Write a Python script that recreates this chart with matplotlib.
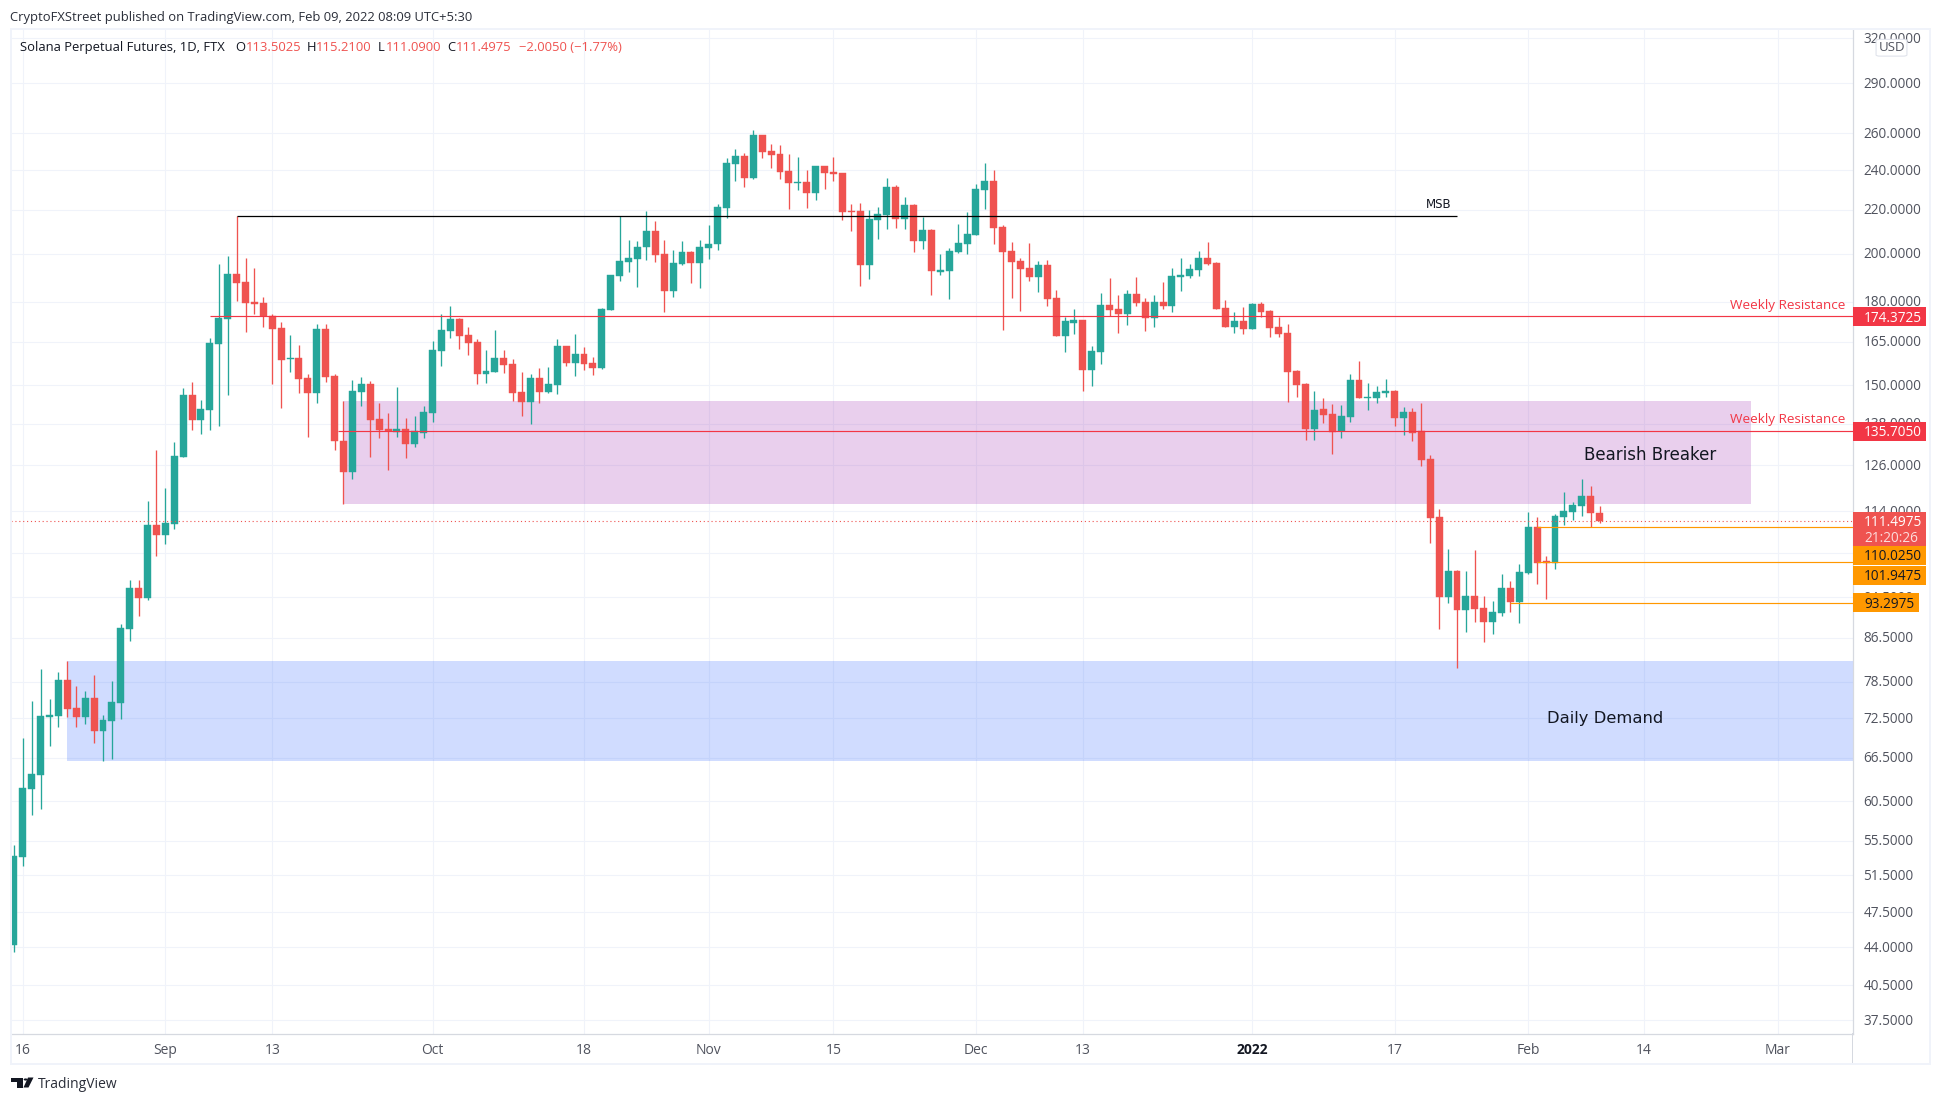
import numpy as np
import pandas as pd
import matplotlib
matplotlib.use("Agg")
import matplotlib.pyplot as plt
from matplotlib.patches import Rectangle, FancyBboxPatch, Polygon, Circle
from matplotlib.transforms import ScaledTranslation

# daily candles, SOL perp
start_date = "2021-08-15"
opens = [
    44.2, 53.6, 62.2, 64.1, 72.8, 72.9, 78.8, 74.2, 72.7, 75.8,
    70.5, 72.1, 75.0, 88.2, 96.4, 94.3, 110.6, 108.2, 110.9, 128.2,
    146.9, 139.1, 142.2, 164.2, 173.4, 191.3, 188.0, 179.9, 179.6, 174.4,
    170.1, 158.9, 159.3, 152.5, 147.6, 169.7, 153.1, 132.8, 124.1, 147.8,
    150.5, 139.5, 136.4, 135.5, 136.4, 132.0, 135.2, 141.3, 161.7, 168.9,
    173.4, 167.5, 164.9, 153.8, 154.4, 159.3, 157.2, 147.8, 144.6, 152.5,
    147.8, 150.2, 163.5, 157.6, 160.7, 157.6, 155.9, 176.9, 190.5, 196.3,
    197.7, 202.7, 210.1, 199.8, 184.3, 195.5, 200.7, 196.0, 202.5, 204.2,
    220.9, 243.2, 247.5, 235.9, 259.1, 250.2, 248.6, 239.5, 233.3, 233.9,
    228.3, 242.2, 239.0, 238.5, 219.5, 219.5, 195.1, 215.2, 217.6, 231.3,
    215.7, 222.4, 205.6, 210.6, 192.1, 192.5, 200.7, 204.2, 208.3, 229.8,
    234.4, 212.0, 201.1, 196.8, 193.8, 190.0, 195.1, 181.5, 167.1, 171.9,
    173.0, 155.1, 161.3, 178.8, 177.2, 175.3, 183.1, 180.0, 173.8, 180.0,
    178.4, 190.0, 190.4, 193.0, 198.1, 196.0, 177.6, 170.4, 172.7, 169.6,
    179.2, 176.4, 170.4, 168.2, 154.8, 150.4, 136.4, 142.4, 140.9, 135.8,
    140.0, 151.8, 145.9, 146.0, 147.5, 148.2, 139.7, 141.5, 135.7, 127.7,
    112.5, 94.5, 100.0, 91.9, 94.7, 92.2, 89.5, 91.2, 96.4, 93.5,
    99.6, 110.1, 102.2, 101.9, 112.5, 113.8, 115.3, 117.8, 113.5025,
]
highs = [
    55.0, 69.4, 75.3, 80.8, 75.7, 80.2, 82.2, 77.8, 76.9, 79.7,
    73.0, 78.6, 89.1, 98.1, 98.1, 116.5, 130.3, 120.0, 132.5, 149.2,
    151.1, 145.3, 166.4, 195.6, 198.9, 216.9, 198.2, 193.9, 181.9, 175.2,
    172.1, 167.5, 163.8, 153.7, 171.6, 171.6, 153.7, 145.0, 151.8, 152.7,
    151.4, 144.5, 141.3, 149.5, 139.8, 140.3, 143.4, 165.3, 175.2, 178.4,
    173.6, 170.3, 165.9, 162.1, 169.3, 162.1, 158.9, 154.4, 153.7, 155.9,
    156.1, 165.9, 163.5, 167.9, 163.1, 159.6, 177.5, 191.0, 216.9, 206.1,
    205.4, 219.3, 214.7, 206.0, 201.6, 205.6, 201.0, 206.0, 212.9, 222.9,
    246.4, 251.3, 249.2, 262.0, 259.4, 254.1, 253.5, 248.6, 247.0, 240.0,
    242.4, 242.4, 247.0, 238.7, 222.9, 223.4, 220.0, 221.4, 235.9, 232.3,
    226.3, 222.9, 216.7, 211.0, 199.8, 202.5, 213.4, 219.0, 232.9, 243.8,
    240.0, 212.9, 205.2, 198.1, 204.7, 196.8, 197.2, 184.7, 174.1, 177.2,
    173.2, 163.5, 183.5, 189.6, 182.7, 184.7, 190.0, 181.5, 182.7, 188.0,
    193.8, 198.1, 195.5, 201.1, 205.2, 196.2, 180.7, 176.1, 178.0, 179.6,
    180.0, 176.8, 174.1, 171.5, 155.1, 150.8, 148.2, 145.9, 144.0, 143.7,
    153.8, 158.2, 150.8, 149.8, 152.1, 148.4, 143.1, 142.8, 144.3, 128.9,
    114.5, 104.9, 100.2, 100.0, 104.7, 94.7, 93.7, 99.3, 97.9, 101.6,
    113.8, 112.5, 103.4, 113.3, 118.8, 116.3, 122.3, 120.4, 115.21,
]
lows = [
    43.5, 52.5, 58.7, 59.5, 68.2, 71.2, 72.7, 71.2, 71.6, 68.7,
    66.0, 66.4, 72.4, 85.8, 90.6, 93.9, 103.3, 106.1, 109.7, 128.2,
    136.1, 134.9, 136.1, 137.3, 146.9, 180.3, 168.5, 175.2, 170.3, 150.5,
    142.8, 154.4, 147.6, 134.0, 144.4, 151.0, 130.3, 115.8, 122.4, 143.4,
    128.2, 133.8, 124.7, 134.0, 128.1, 131.1, 133.8, 138.5, 156.5, 166.2,
    162.5, 160.3, 150.5, 150.7, 154.4, 154.2, 145.0, 140.3, 137.9, 144.4,
    147.6, 147.3, 156.5, 153.1, 155.1, 153.5, 155.6, 176.8, 188.4, 192.1,
    185.9, 197.3, 196.4, 176.1, 181.9, 195.1, 187.6, 185.5, 197.7, 201.6,
    216.2, 234.4, 231.3, 235.4, 246.4, 241.1, 235.4, 220.4, 229.8, 220.9,
    224.8, 230.3, 234.4, 215.2, 210.1, 186.3, 189.2, 206.5, 211.0, 211.5,
    211.0, 200.7, 202.0, 182.7, 190.9, 181.1, 200.3, 199.8, 208.3, 220.4,
    204.2, 169.3, 181.5, 176.4, 188.4, 183.9, 178.4, 167.1, 161.3, 167.8,
    148.2, 149.8, 157.1, 174.5, 168.2, 171.1, 178.4, 168.9, 170.4, 177.2,
    176.1, 184.3, 189.6, 190.4, 195.1, 177.2, 170.4, 168.2, 167.8, 169.6,
    174.1, 166.7, 166.7, 144.7, 146.2, 133.1, 133.1, 138.1, 129.1, 133.7,
    138.5, 145.9, 142.1, 144.3, 146.2, 137.3, 134.6, 132.8, 125.8, 106.3,
    88.1, 93.3, 80.9, 87.5, 89.5, 85.7, 87.2, 90.7, 91.4, 89.3,
    99.3, 97.2, 94.1, 100.5, 110.6, 111.8, 112.8, 110.0, 111.09,
]
closes = [
    53.7, 62.3, 64.2, 72.9, 73.0, 78.8, 74.0, 72.7, 75.8, 70.5,
    72.2, 75.2, 88.3, 96.4, 94.3, 110.6, 108.2, 111.1, 128.6, 146.9,
    139.1, 142.4, 164.6, 173.9, 191.3, 187.6, 179.6, 179.2, 174.4, 169.7,
    158.6, 159.3, 152.1, 147.6, 169.7, 152.7, 132.8, 124.1, 148.1, 150.5,
    139.1, 136.1, 135.7, 136.4, 132.0, 135.7, 141.5, 162.1, 169.3, 173.4,
    167.1, 164.6, 153.8, 154.7, 159.3, 157.0, 147.6, 144.6, 152.5, 147.8,
    150.5, 163.5, 157.6, 160.7, 157.2, 155.9, 177.3, 190.9, 196.8, 198.2,
    202.9, 210.1, 199.4, 184.3, 196.0, 200.7, 196.0, 202.9, 204.2, 221.4,
    243.8, 247.5, 235.9, 259.1, 249.7, 248.1, 239.0, 233.3, 233.9, 228.3,
    242.2, 238.5, 238.0, 219.0, 219.0, 195.1, 215.7, 218.1, 231.3, 215.7,
    222.4, 205.6, 210.6, 192.5, 193.0, 201.1, 204.7, 208.7, 230.3, 234.4,
    211.5, 200.7, 196.4, 193.4, 190.0, 195.1, 181.1, 167.1, 172.7, 173.0,
    155.1, 161.7, 178.8, 176.8, 175.3, 183.1, 179.6, 173.8, 180.0, 178.4,
    190.4, 190.9, 193.4, 198.1, 195.5, 177.2, 170.4, 172.7, 169.6, 179.2,
    176.1, 170.0, 167.8, 154.5, 150.1, 136.4, 142.1, 140.6, 135.6, 140.3,
    151.8, 145.9, 146.2, 147.9, 148.2, 139.7, 141.5, 135.2, 127.4, 112.3,
    94.5, 100.0, 91.9, 94.7, 92.1, 89.5, 91.4, 96.4, 93.4, 99.8,
    110.1, 101.8, 101.9, 112.8, 114.0, 115.5, 117.8, 113.5, 111.4975,
]

price_ticks = [320, 290, 260, 240, 220, 200, 180, 165, 150, 138, 126, 114, 104,
               94.5, 86.5, 78.5, 72.5, 66.5, 60.5, 55.5, 51.5, 47.5, 44, 40.5, 37.5]
date_ticks = ["2021-08-16", "2021-09-01", "2021-09-13", "2021-10-01", "2021-10-18", "2021-11-01",
              "2021-11-15", "2021-12-01", "2021-12-13", "2022-01-01", "2022-01-17", "2022-02-01",
              "2022-02-14", "2022-03-01"]
date_labels = ["16", "Sep", "13", "Oct", "18", "Nov", "15", "Dec", "13", "2022", "17", "Feb", "14", "Mar"]

msb_level = 217.0
weekly_res = [174.3725, 135.705]
support_levels = [110.025, 101.9475, 93.2975]
last_close = 111.4975

# W, H in pixels, everything outside the axes is placed in these
W, H = 1941, 1103
UP, DOWN = "#26a69a", "#ef5350"
RED, ORANGE = "#f23645", "#ff9800"
TEXT = "#131722"
GREY = "#50535e"
FRAME = "#f0f3fa"
GRID = "#f0f3fa"
FONT = "Open Sans"
plt.rcParams["font.family"] = FONT


def fx(x):
    return x / W


def fy(y):
    return 1 - y / H


def day(d):
    return (pd.Timestamp(d) - pd.Timestamp(start_date)).days


fig = plt.figure(figsize=(W / 100, H / 100), dpi=100, facecolor="white")
ax = fig.add_axes([fx(11), fy(1033.5), fx(1852.5 - 11), (1033.5 - 30) / H])

x = np.arange(len(opens))
o, h, l, c = map(np.array, (opens, highs, lows, closes))
colors = np.where(c >= o, UP, DOWN)

ax.set_yscale("log")
ax.set_xlim(-0.326, 206.4)
ax.set_ylim(36.44, 325.9)

# zones go under the candles but let the grid show through
ax.add_patch(Rectangle((day("2021-09-21"), 115.8), 158, 145.0 - 115.8, fc="#9c27b0", ec="none", alpha=0.22, zorder=2))
ax.axhspan(66.0, 82.2, xmin=(day("2021-08-21") + 0.326) / 206.726, xmax=1, fc="#2962ff", ec="none", alpha=0.22, zorder=2)

ax.vlines(x, l, h, colors=colors, lw=0.95, zorder=3)
ax.bar(x, np.maximum(np.abs(c - o), 1e-3), bottom=np.minimum(o, c), width=0.78,
       color=colors, edgecolor=colors, linewidth=0.3, zorder=4)

# levels
ax.hlines(msb_level, day("2021-09-09"), day("2022-01-24"), color="black", lw=0.9, zorder=5)
ax.hlines(weekly_res[0], day("2021-09-06"), 206.4, color=RED, lw=0.85, zorder=5)
ax.hlines(weekly_res[1], day("2021-09-20") + 0.4, 206.4, color=RED, lw=0.85, zorder=5)
ax.hlines(support_levels[0], day("2022-02-02"), 206.4, color=ORANGE, lw=0.85, zorder=5)
ax.hlines(support_levels[1], day("2022-02-02"), 206.4, color=ORANGE, lw=0.85, zorder=5)
ax.hlines(support_levels[2], day("2022-01-30"), 206.4, color=ORANGE, lw=0.85, zorder=5)
ax.axhline(last_close, color=DOWN, lw=0.8, ls=(0, (1, 2.5)), zorder=5)

ax.set_yticks(price_ticks)
ax.set_yticklabels([f"{v:.4f}" for v in price_ticks])
ax.minorticks_off()
ax.yaxis.tick_right()
ax.tick_params(axis="y", length=0, pad=8, labelsize=9.8, labelcolor=GREY)
# nudge the scale labels up one pixel
nudge = ScaledTranslation(0, 1 / 100, fig.dpi_scale_trans)
for lab in ax.get_yticklabels():
    lab.set_transform(lab.get_transform() + nudge)
ax.set_xticks([day(d) for d in date_ticks])
ax.set_xticklabels(date_labels)
ax.tick_params(axis="x", length=0, pad=6.5, labelsize=10, labelcolor=GREY)
for lab, name in zip(ax.get_xticklabels(), date_labels):
    if name == "2022":
        lab.set_fontweight("bold")
        lab.set_color(TEXT)
ax.grid(True, color=GRID, lw=0.8, zorder=0)
ax.set_axisbelow(True)
for s in ("top", "left"):
    ax.spines[s].set_visible(False)
for s in ("right", "bottom"):
    ax.spines[s].set_color("#d6d9e0")
    ax.spines[s].set_linewidth(0.9)

# annotation text on the chart
ax.text(day("2022-01-22"), msb_level * 1.012, "MSB", fontsize=8.5, color=TEXT, ha="center", va="bottom",
        family="DejaVu Sans", zorder=6)
fig.text(fx(1845), fy(305), "Weekly Resistance", color=RED, fontsize=9.7, fontweight="medium", ha="right", va="center", zorder=6)
fig.text(fx(1845), fy(420), "Weekly Resistance", color=RED, fontsize=9.7, fontweight="medium", ha="right", va="center", zorder=6)
fig.text(fx(1650), fy(455.5), "Bearish Breaker", color=TEXT, fontsize=12, ha="center", va="center",
         family="DejaVu Sans", zorder=6)
fig.text(fx(1605), fy(718), "Daily Demand", color=TEXT, fontsize=11.8, ha="center", va="center",
         family="DejaVu Sans", zorder=6)


def frame_rect(x0, y0, x1, y1, color, z=3):
    fig.add_artist(Rectangle((fx(x0), fy(y1)), fx(x1 - x0), (y1 - y0) / H, transform=fig.transFigure,
                             fc=color, ec="none", zorder=z))


# outer border and the time scale divider
frame_rect(9.5, 28, 1931, 30, FRAME)
frame_rect(9.5, 1063, 1931, 1065, FRAME)
frame_rect(9.5, 28, 11.5, 1065, FRAME)
frame_rect(1929, 28, 1931, 1065, FRAME)
frame_rect(1852, 1033, 1853, 1063, "#d6d9e0")


# price labels on the scale
def price_box(y0, y1, x1, color):
    frame_rect(1852.5, y0, x1, y1, color, z=4)


def scale_text(y, s, color, alpha=1.0, weight="medium"):
    fig.text(fx(1864), fy(y + 1), s, color=color, fontsize=9.8, fontweight=weight, va="center", ha="left",
             alpha=alpha, zorder=5)


price_box(307, 326, 1926, RED)
scale_text(317, f"{weekly_res[0]:.4f}", "white")
price_box(422, 441, 1926, RED)
scale_text(432, f"{weekly_res[1]:.4f}", "white")
price_box(512, 546, 1926, DOWN)
scale_text(522, f"{last_close:.4f}", "white")
scale_text(538, "21:20:26", "white", alpha=0.8)
price_box(546, 565, 1926, ORANGE)
scale_text(556, f"{support_levels[0]:.4f}", TEXT)
price_box(566, 585, 1926, ORANGE)
scale_text(576, f"{support_levels[1]:.4f}", TEXT)
price_box(593, 612, 1919, ORANGE)
scale_text(603, f"{support_levels[2]:.4f}", TEXT)

# USD button over the top tick
fig.add_artist(FancyBboxPatch((fx(1878), fy(55.5)), fx(27), 15.5 / H, boxstyle="round,pad=0.001,rounding_size=0.002",
                              transform=fig.transFigure, fc="white", ec="#e0e3eb", lw=0.8, zorder=4,
                              mutation_aspect=H / W * 1.0))
fig.text(fx(1891.5), fy(47.5), "USD", color=GREY, fontsize=9.5, ha="center", va="center", zorder=5)

# header and legend
fig.text(fx(10), fy(18), "CryptoFXStreet published on TradingView.com, Feb 09, 2022 08:09 UTC+5:30",
         color="#2a2e39", fontsize=9.35, va="center")
fig.text(fx(20), fy(47.5), "Solana Perpetual Futures, 1D, FTX", color=TEXT, fontsize=9.35, va="center", zorder=5)
legend_bits = [(235, "O", TEXT), (245.5, "113.5025", DOWN), (306.5, "H", TEXT), (316, "115.2100", DOWN),
               (378, "L", TEXT), (385.5, "111.0900", DOWN), (447.5, "C", TEXT), (456, "111.4975", DOWN),
               (519, "\u22122.0050 (\u22121.77%)", DOWN)]
for px, s, col in legend_bits:
    fig.text(fx(px), fy(47.5), s, color=col, fontsize=9.35, va="center", zorder=5)

# TradingView mark bottom left
logo = "#131722"
fig.add_artist(Polygon([(fx(11), fy(1077.5)), (fx(23), fy(1077.5)), (fx(23), fy(1087.5)), (fx(17), fy(1087.5)),
                        (fx(17), fy(1081.5)), (fx(11), fy(1081.5))], closed=True, transform=fig.transFigure,
                       fc=logo, ec="none"))
fig.add_artist(Circle((fx(25.6), fy(1079.5)), 1.9 / W, transform=fig.transFigure, fc=logo, ec="none"))
fig.add_artist(Polygon([(fx(28), fy(1077.5)), (fx(33.5), fy(1077.5)), (fx(28.5), fy(1087.5)), (fx(23.5), fy(1087.5))],
                       closed=True, transform=fig.transFigure, fc=logo, ec="none"))
fig.text(fx(38), fy(1084.5), "TradingView", color="#2a2e39", fontsize=10, va="center")

fig.savefig("out.png", dpi=100)
